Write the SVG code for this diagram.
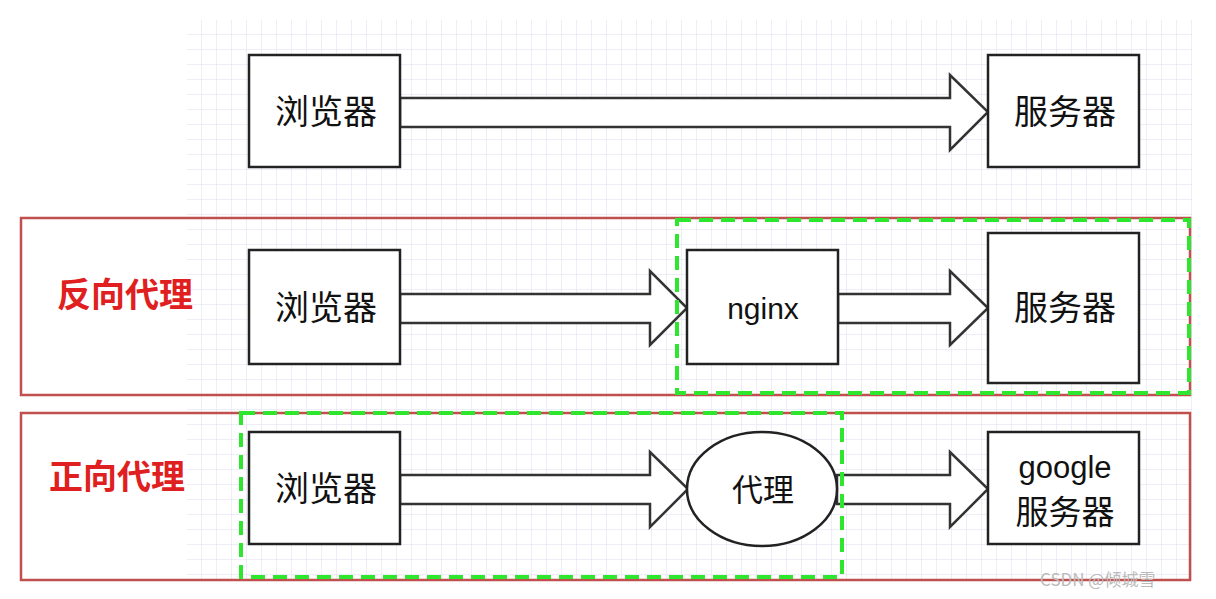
<svg xmlns="http://www.w3.org/2000/svg" width="1216" height="599" viewBox="0 0 1216 599">
<defs>
<pattern id="g" x="187" y="20" width="15" height="15" patternUnits="userSpaceOnUse"><path d="M15 0V15H0" fill="none" stroke="#dcdcf0" stroke-width="1"/></pattern>
</defs>
<style>
.b{fill:#fff;stroke:#222;stroke-width:2.5}
.t{font-family:"Noto Sans CJK SC","Liberation Sans",sans-serif;font-size:34px;fill:#111;text-anchor:middle}
.a{fill:#fff;stroke:#333;stroke-width:2.5;stroke-linejoin:miter}
.r{fill:none;stroke:#c0504d;stroke-width:2.5}
.gd{fill:none;stroke:#2ee62e;stroke-width:4;stroke-dasharray:14 8}
.l{font-family:"Noto Sans CJK SC",sans-serif;font-size:34px;font-weight:bold;fill:#e02020}
</style>
<rect width="1216" height="599" fill="#fff"/>
<rect x="187" y="20" width="1005" height="560" fill="url(#g)"/>
<g id="connectors">
<path class="a" d="M400 98H950V75L988 112L950 150V127H400Z"/>
<path class="a" d="M400 294H650V271L687 308L650 345V323H400Z"/>
<path class="a" d="M838 294H950V271L988 308L950 345V323H838Z"/>
<path class="a" d="M400 475H650V452L688 489L650 527V504H400Z"/>
<path class="a" d="M837 475H950V452L988 489L950 527V504H837Z"/>
</g>
<rect class="r" x="21" y="218" width="1169" height="177"/>
<rect class="r" x="21" y="413" width="1169" height="167"/>
<g id="n1"><rect class="b" x="249" y="55" width="151" height="112"/><text class="t" x="326" y="124">浏览器</text></g>
<g id="n2"><rect class="b" x="988" y="55" width="151" height="112"/><text class="t" x="1065" y="124">服务器</text></g>
<g id="n3"><rect class="b" x="249" y="250" width="151" height="114"/><text class="t" x="326" y="320">浏览器</text></g>
<g id="n4"><rect class="b" x="687" y="250" width="151" height="114"/><text class="t" x="763" y="319" style="font-family:'Liberation Sans',sans-serif;font-size:30px">nginx</text></g>
<g id="n5"><rect class="b" x="988" y="233" width="151" height="150"/><text class="t" x="1065" y="320">服务器</text></g>
<g id="n6"><rect class="b" x="249" y="432" width="151" height="112"/><text class="t" x="326" y="501">浏览器</text></g>
<g id="n7"><ellipse class="b" cx="762" cy="489" rx="75" ry="57"/><text class="t" x="763" y="501" style="font-size:31px">代理</text></g>
<g id="n8"><rect class="b" x="988" y="432" width="151" height="112"/><text class="t" x="1065" y="478" style="font-family:'Liberation Sans',sans-serif;font-size:31px">google</text><text class="t" x="1065" y="524" style="font-size:33px">服务器</text></g>
<rect class="gd" x="677" y="220" width="512" height="173"/>
<rect class="gd" x="241" y="413" width="601" height="164"/>
<text class="l" x="57" y="307">反向代理</text>
<text class="l" x="49" y="489">正向代理</text>
<text x="1040" y="586" style="font-family:'Noto Sans CJK SC',sans-serif;font-size:17px;fill:#bbb">CSDN @倾城雪</text>
</svg>
